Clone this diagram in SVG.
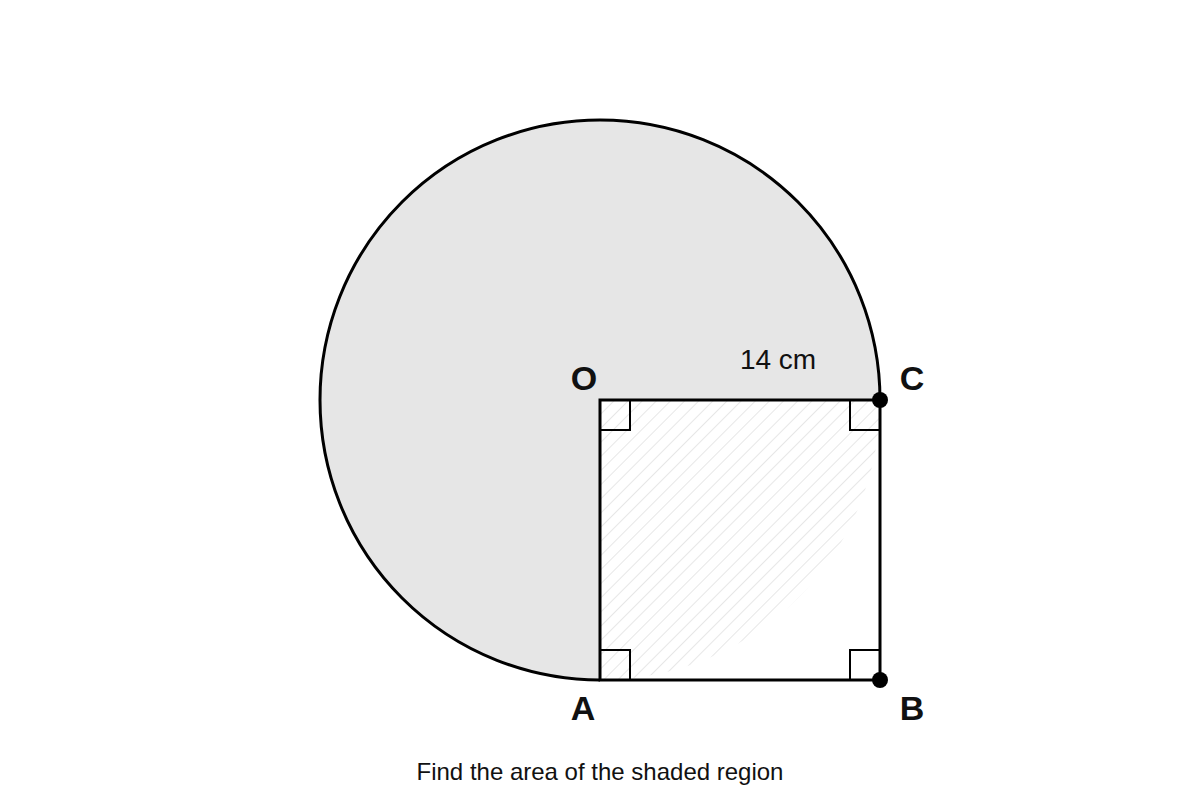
<svg xmlns="http://www.w3.org/2000/svg" width="1200" height="800" viewBox="0 0 1200 800">
  <defs>
    <pattern id="hatch" patternUnits="userSpaceOnUse" width="10" height="10" patternTransform="rotate(45 600 400)">
      <line x1="0" y1="0" x2="0" y2="10" stroke="#d6d6d6" stroke-width="1.2"/>
    </pattern>
    <style>
      .edge { fill: none; stroke: #000; stroke-width: 3; }
      .mark { fill: none; stroke: #000; stroke-width: 2; }
      .lbl { font-family: "Liberation Sans", Arial, sans-serif; font-weight: bold; font-size: 34px; fill: #111; text-anchor: middle; }
      .txt { font-family: "Liberation Sans", Arial, sans-serif; font-size: 28px; fill: #111; text-anchor: middle; }
    </style>
  </defs>
  <rect width="1200" height="800" fill="#fff"/>
  <g id="shaded-region">
    <path d="M880,400 A280,280 0 1,0 600,680 L600,400 Z" fill="#e6e6e6"/>
    <path d="M880,400 A280,280 0 1,0 600,680" class="edge"/>
  </g>
  <g id="square">
    <rect x="600" y="400" width="280" height="280" fill="#fff"/>
    <path d="M600,400 L880,400 A280,280 0 0,1 600,680 Z" fill="url(#hatch)"/>
    <rect x="600" y="400" width="280" height="280" class="edge"/>
    <path class="mark" d="M600,430 H630 V400"/>
    <path class="mark" d="M850,400 V430 H880"/>
    <path class="mark" d="M600,650 H630 V680"/>
    <path class="mark" d="M850,680 V650 H880"/>
  </g>
  <g id="point-C"><circle cx="880" cy="400" r="8" fill="#000"/><text class="lbl" x="912" y="390">C</text></g>
  <g id="point-B"><circle cx="880" cy="680" r="8" fill="#000"/><text class="lbl" x="912" y="720">B</text></g>
  <g id="point-O"><text class="lbl" x="584" y="390">O</text></g>
  <g id="point-A"><text class="lbl" x="583" y="720">A</text></g>
  <g id="labels">
    <text class="txt" x="778" y="369">14 cm</text>
    <text class="txt" x="600" y="780" style="font-size:24px">Find the area of the shaded region</text>
  </g>
</svg>
